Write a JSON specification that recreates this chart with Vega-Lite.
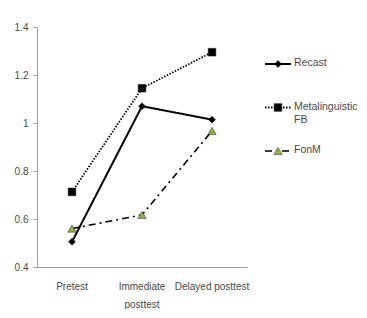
{
  "$schema": "https://vega.github.io/schema/vega-lite/v6.json",
  "padding": {"left": 14, "top": 22, "right": 0, "bottom": 0},
  "background": "white",
  "config": {
    "view": {"stroke": null},
    "font": "Liberation Sans",
    "axis": {"labelFont": "Liberation Sans", "labelColor": "#4a4a4a", "labelFontSize": 10, "domainColor": "#a0a0a0", "tickColor": "#a0a0a0", "grid": false, "title": null}
  },
  "spacing": 15,
  "datasets": {
    "scores": [
      {"test": "Pretest", "group": "Recast", "value": 0.505},
      {"test": "Immediate posttest", "group": "Recast", "value": 1.07},
      {"test": "Delayed posttest", "group": "Recast", "value": 1.014},
      {"test": "Pretest", "group": "Metalinguistic FB", "value": 0.713},
      {"test": "Immediate posttest", "group": "Metalinguistic FB", "value": 1.145},
      {"test": "Delayed posttest", "group": "Metalinguistic FB", "value": 1.295},
      {"test": "Pretest", "group": "FonM", "value": 0.56},
      {"test": "Immediate posttest", "group": "FonM", "value": 0.617},
      {"test": "Delayed posttest", "group": "FonM", "value": 0.967}
    ],
    "legend": [
      {"group": "Recast", "label": "Recast"},
      {"group": "Metalinguistic FB", "label": "Metalinguistic\nFB"},
      {"group": "FonM", "label": "FonM"}
    ]
  },
  "hconcat": [
    {
      "width": 210,
      "height": 240,
      "data": {"name": "scores"},
      "encoding": {
        "x": {"field": "test", "type": "nominal", "sort": ["Pretest", "Immediate posttest", "Delayed posttest"],
              "scale": {"type": "band", "paddingInner": 0, "paddingOuter": 0},
              "axis": {"labelAngle": 0, "ticks": false, "labelPadding": 14, "labelLineHeight": 18, "labelBaseline": "top",
                       "labelExpr": "datum.value == 'Immediate posttest' ? ['Immediate', 'posttest'] : datum.value"}},
        "y": {"field": "value", "type": "quantitative",
              "scale": {"domain": [0.4, 1.4], "nice": false, "zero": false},
              "axis": {"values": [0.4, 0.6, 0.8, 1.0, 1.2, 1.4], "format": "~g", "tickSize": 4, "labelPadding": 5}}
      },
      "layer": [
        {
          "mark": {"type": "line", "color": "black"},
          "encoding": {
            "strokeDash": {"field": "group", "type": "nominal", "legend": null,
                           "scale": {"domain": ["Recast", "Metalinguistic FB", "FonM"], "range": [[1, 0], [1.5, 1.5], [7, 4, 2, 4]]}},
            "strokeWidth": {"field": "group", "type": "nominal", "legend": null,
                            "scale": {"domain": ["Recast", "Metalinguistic FB", "FonM"], "range": [2, 1.6, 2]}}
          }
        },
        {
          "mark": {"type": "point", "filled": true, "opacity": 1, "stroke": "#222222", "strokeWidth": 0.5},
          "encoding": {
            "shape": {"field": "group", "type": "nominal", "legend": null,
                      "scale": {"domain": ["Recast", "Metalinguistic FB", "FonM"], "range": ["diamond", "square", "triangle-up"]}},
            "fill": {"field": "group", "type": "nominal", "legend": null,
                     "scale": {"domain": ["Recast", "Metalinguistic FB", "FonM"], "range": ["black", "black", "#8fb04a"]}},
            "size": {"field": "group", "type": "nominal", "legend": null,
                     "scale": {"domain": ["Recast", "Metalinguistic FB", "FonM"], "range": [49, 70, 50]}}
          }
        }
      ]
    },
    {
      "width": 90,
      "height": 240,
      "data": {"name": "legend"},
      "encoding": {
        "y": {"field": "group", "type": "nominal", "sort": ["Recast", "Metalinguistic FB", "FonM"],
              "scale": {"type": "point", "range": [37, 124], "padding": 0}, "axis": null}
      },
      "layer": [
        {
          "mark": {"type": "rule", "color": "black"},
          "encoding": {
            "x": {"datum": 0, "type": "quantitative", "scale": {"domain": [0, 90]}, "axis": null},
            "x2": {"datum": 26},
            "strokeDash": {"field": "group", "type": "nominal", "legend": null,
                           "scale": {"domain": ["Recast", "Metalinguistic FB", "FonM"], "range": [[1, 0], [1.5, 1.5], [4, 4, 2, 4]]}},
            "strokeWidth": {"field": "group", "type": "nominal", "legend": null,
                            "scale": {"domain": ["Recast", "Metalinguistic FB", "FonM"], "range": [2, 1.6, 2]}}
          }
        },
        {
          "mark": {"type": "point", "filled": true, "opacity": 1, "stroke": "#222222", "strokeWidth": 0.5},
          "encoding": {
            "x": {"datum": 13, "type": "quantitative"},
            "shape": {"field": "group", "type": "nominal", "legend": null,
                      "scale": {"domain": ["Recast", "Metalinguistic FB", "FonM"], "range": ["diamond", "square", "triangle-up"]}},
            "fill": {"field": "group", "type": "nominal", "legend": null,
                     "scale": {"domain": ["Recast", "Metalinguistic FB", "FonM"], "range": ["black", "black", "#8fb04a"]}},
            "size": {"field": "group", "type": "nominal", "legend": null,
                     "scale": {"domain": ["Recast", "Metalinguistic FB", "FonM"], "range": [25, 36, 28]}}
          }
        },
        {
          "mark": {"type": "text", "align": "left", "baseline": "top", "dy": -6, "lineBreak": "\n", "lineHeight": 13, "fontSize": 10.5, "color": "#4a4a4a"},
          "encoding": {
            "x": {"datum": 29, "type": "quantitative"},
            "text": {"field": "label", "type": "nominal"}
          }
        }
      ]
    }
  ]
}
